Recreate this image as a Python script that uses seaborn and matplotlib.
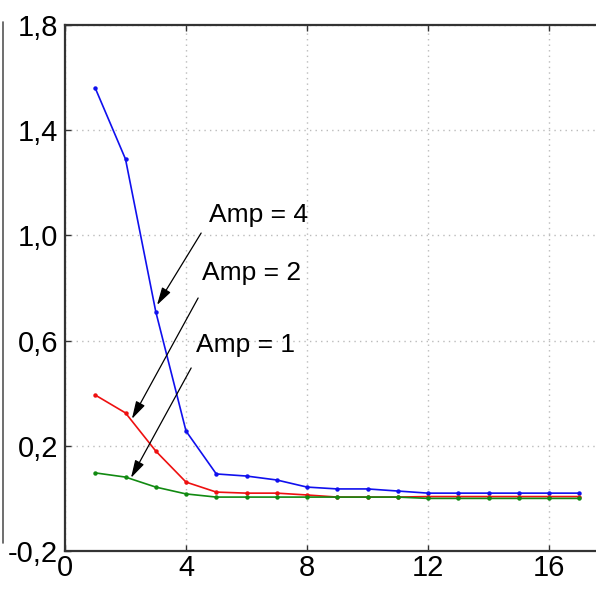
import matplotlib
matplotlib.use("Agg")
import matplotlib.pyplot as plt
from matplotlib import font_manager
from matplotlib.lines import Line2D
import seaborn as sns
import pandas as pd

# ---- data ----
steps = list(range(1, 18))
amp4 = [1.56, 1.29, 0.71, 0.256, 0.093, 0.085, 0.07, 0.043, 0.036, 0.036,
        0.028, 0.02, 0.02, 0.02, 0.02, 0.02, 0.02]
amp2 = [0.393, 0.325, 0.18, 0.062, 0.024, 0.02, 0.02, 0.013, 0.005, 0.005,
        0.005, 0.007, 0.007, 0.007, 0.007, 0.007, 0.007]
amp1 = [0.097, 0.081, 0.043, 0.017, 0.005, 0.005, 0.005, 0.005, 0.005, 0.005,
        0.005, 0.0, 0.0, 0.0, 0.0, 0.0, 0.0]
series_names = ["Amp = 4", "Amp = 2", "Amp = 1"]
x_ticks = [0, 4, 8, 12, 16]
y_ticks = [-0.2, 0.2, 0.6, 1.0, 1.4, 1.8]
y_tick_labels = ["-0,2", "0,2", "0,6", "1,0", "1,4", "1,8"]

df = pd.DataFrame({
    "x": steps * 3,
    "y": amp4 + amp2 + amp1,
    "series": [series_names[0]] * 17 + [series_names[1]] * 17 + [series_names[2]] * 17,
})

sns.set_theme(style="white")
avail = {f.name for f in font_manager.fontManager.ttflist}
fam = "Liberation Sans Narrow" if "Liberation Sans Narrow" in avail else "Liberation Sans"
plt.rcParams["font.family"] = [fam, "DejaVu Sans"]

fig = plt.figure(figsize=(5.96, 5.95), dpi=100)
ax = fig.add_axes([65 / 596, 1 - 551 / 595, 1 - 65 / 596, (551 - 25) / 595])

palette = {series_names[0]: "#1010ee", series_names[1]: "#ee1010", series_names[2]: "#118a11"}
sns.lineplot(data=df, x="x", y="y", hue="series", palette=palette, ax=ax,
             marker="o", markersize=3.2, markeredgewidth=0, linewidth=1.2,
             legend=False, sort=False)

ax.set_xlim(0, 17.55)
ax.set_ylim(-0.2, 1.8)
ax.set_xticks(x_ticks)
ax.set_yticks(y_ticks)
ax.set_yticklabels(y_tick_labels)
ax.set_xlabel("")
ax.set_ylabel("")
ax.tick_params(direction="in", length=4, width=1, colors="#333333",
               labelsize=21, labelcolor="black", pad=6)
ax.tick_params(axis="x", top=True, bottom=True, pad=2)
ax.tick_params(axis="y", left=True, pad=5)
ax.grid(True, linestyle=(0, (1, 3)), color="#bbbbbb", linewidth=1)
for side in ["left", "bottom", "top"]:
    ax.spines[side].set_visible(True)
    ax.spines[side].set_color("#333333")
    ax.spines[side].set_linewidth(1.6)
ax.spines["right"].set_visible(False)

# annotations
ann = [
    ("Amp = 4", (4.76, 1.078), (4.50, 1.009), (3.04, 0.735)),
    ("Amp = 2", (4.53, 0.857), (4.40, 0.762), (2.21, 0.302)),
    ("Amp = 1", (4.33, 0.583), (4.17, 0.496), (2.18, 0.078)),
]
for label, tpos, tail, tip in ann:
    ax.text(tpos[0], tpos[1], label, fontsize=19, va="center", ha="left", color="black")
    ax.annotate("", xy=tip, xytext=tail,
                arrowprops=dict(arrowstyle="-|>,head_length=0.9,head_width=0.25",
                                color="black", lw=0.9, mutation_scale=12,
                                shrinkA=0, shrinkB=0))

fig.add_artist(Line2D([3 / 596, 3 / 596], [1 - 22 / 595, 1 - 543 / 595],
                      color="#555555", linewidth=1.2))

fig.savefig("out.png", dpi=100)
